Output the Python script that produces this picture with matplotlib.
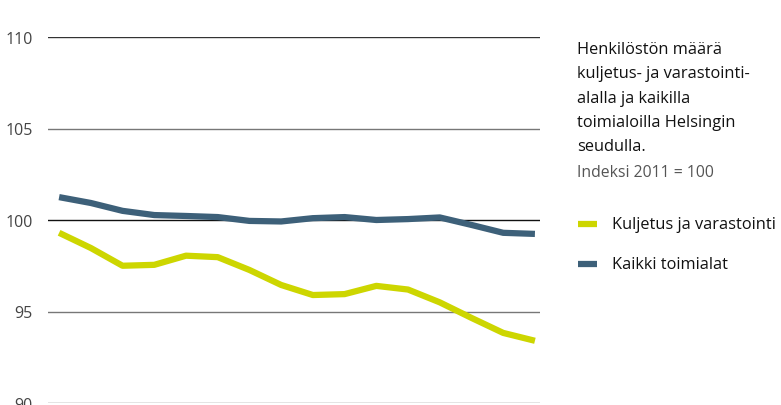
import matplotlib
matplotlib.use("Agg")
import matplotlib.pyplot as plt

years = list(range(16))
kuljetus = [99.3, 98.47, 97.5, 97.55, 98.05, 97.97, 97.27, 96.45, 95.9, 95.95, 96.4, 96.2, 95.5, 94.65, 93.83, 93.4]
kaikki = [101.25, 100.93, 100.5, 100.27, 100.22, 100.16, 99.95, 99.92, 100.1, 100.16, 100.0, 100.05, 100.14, 99.73, 99.3, 99.24]
yticks = [90, 95, 100, 105, 110]

plt.rcParams['font.family'] = ['Open Sans', 'DejaVu Sans']

W, H = 781, 406
fig = plt.figure(figsize=(W / 100, H / 100), dpi=100)
ax = fig.add_axes([48 / W, (H - 404) / H, (540 - 48) / W, (404 - 38) / H])

yellow = '#cdd600'
blue = '#3d6079'

for y in yticks:
    col = '#111111' if y == 100 else ('#333333' if y == 110 else '#777777')
    ax.axhline(y, color=col, lw=1.0, zorder=1)

ax.plot(years, kaikki, color=blue, lw=4.5, solid_capstyle='butt', solid_joinstyle='round', zorder=3)
ax.plot(years, kuljetus, color=yellow, lw=4.5, solid_capstyle='butt', solid_joinstyle='round', zorder=3)

ax.set_xlim(-0.35, 15.16)
ax.set_ylim(90, 110)
ax.set_yticks(yticks)
ax.set_yticklabels([str(v) for v in yticks], fontsize=11.5, color='#444444')
ax.tick_params(axis='y', length=0, pad=11)
ax.set_xticks([])
for s in ax.spines.values():
    s.set_visible(False)
ax.patch.set_alpha(0)

title_lines = ["Henkilöstön määrä", "kuljetus- ja varastointi-", "alalla ja kaikilla",
               "toimialoilla Helsingin", "seudulla."]
for i, t in enumerate(title_lines):
    fig.text(577 / W, 1 - (50 + i * 24.3) / H, t, fontsize=11.8, color='#111111', va='center', ha='left')
fig.text(577 / W, 1 - 173 / H, "Indeksi 2011 = 100", fontsize=11.3, color='#555555', va='center', ha='left')

for yy, col, lab in [(225, yellow, "Kuljetus ja varastointi"), (265, blue, "Kaikki toimialat")]:
    fig.add_artist(plt.Line2D([578 / W, 597 / W], [1 - yy / H, 1 - yy / H], color=col, lw=4.5,
                              solid_capstyle='butt', transform=fig.transFigure))
    fig.text(612 / W, 1 - yy / H, lab, fontsize=11.8, color='#111111', va='center', ha='left')

fig.savefig("out.png", dpi=100)
